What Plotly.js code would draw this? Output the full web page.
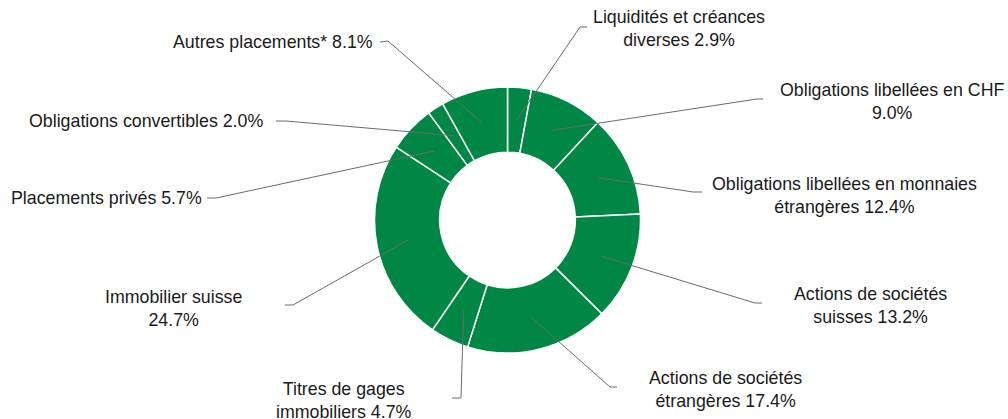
<!DOCTYPE html>
<html>
<head>
<meta charset="utf-8">
<script src="https://cdn.plot.ly/plotly-3.0.1.min.js"></script>
<style>html,body{margin:0;padding:0;background:#fff;}#chart{width:1008px;height:419px;}</style>
</head>
<body>
<div id="chart"></div>
<script>
// ---- Data ----
const categories = [
  "Liquidités et créances diverses",
  "Obligations libellées en CHF",
  "Obligations libellées en monnaies étrangères",
  "Actions de sociétés suisses",
  "Actions de sociétés étrangères",
  "Titres de gages immobiliers",
  "Immobilier suisse",
  "Placements privés",
  "Obligations convertibles",
  "Autres placements*"
];
const values = [2.9, 9.0, 12.4, 13.2, 17.4, 4.7, 24.7, 5.7, 2.0, 8.1];
const labelPrefixes = [
  "Liquidités et créances<br>diverses ",
  "Obligations libellées en CHF<br>",
  "Obligations libellées en monnaies<br>étrangères ",
  "Actions de sociétés<br>suisses ",
  "Actions de sociétés<br>étrangères ",
  "Titres de gages<br>immobiliers ",
  "Immobilier suisse<br>",
  "Placements privés ",
  "Obligations convertibles ",
  "Autres placements* "
];

// ---- Layout (pixel geometry of the figure) ----
const W = 1008, H = 419;
const CX = 507.5, CY = 220, R = 133, HOLE = 0.51;
// label placement: elbow point, tick end, text anchor position
const elbows = [[580,27],[757,99],[693,192],[755,303],[610,387],[461,398],[293,305],[216,198],[286,121],[388,41]];
const ticks  = [[587,27],[763,99],[702,192],[762,303],[617,387],[452,398],[285,305],[207,198],[276,121],[380,42]];
const textPos = [
  [679,29,'center'],[892,101,'center'],[844,195,'center'],[870,305,'center'],[725,389,'center'],
  [344,400,'center'],[173,308,'center'],[204,198,'right'],[265,121,'right'],[375,42,'right']
];

const px = x => x / W;
const py = y => 1 - y / H;

const total = values.reduce((a,b)=>a+b,0);
const rMid = R * (1 + HOLE) / 2;
let cum = 0;
const shapes = [], annotations = [];
values.forEach((v,i) => {
  const mid = (cum + v/2) / total * 2 * Math.PI;
  cum += v;
  const ax = CX + rMid * Math.sin(mid);
  const ay = CY - rMid * Math.cos(mid);
  const [ex,ey] = elbows[i], [tx,ty] = ticks[i];
  shapes.push({
    type:'path', xref:'paper', yref:'paper',
    path:`M ${px(ax)} ${py(ay)} L ${px(ex)} ${py(ey)} L ${px(tx)} ${py(ty)}`,
    line:{color:'#6b6b6b', width:1}
  });
  const [lx,ly,anc] = textPos[i];
  annotations.push({
    xref:'paper', yref:'paper', x:px(lx), y:py(ly),
    xanchor:anc, yanchor:'middle', showarrow:false, align:'center',
    text: labelPrefixes[i] + v.toFixed(1) + '%',
    font:{family:'Liberation Sans, Arial, sans-serif', size:17.8, color:'#1a1a1a'}
  });
});

const trace = {
  type:'pie', labels:categories, values:values, sort:false, direction:'clockwise', rotation:0,
  hole:HOLE, textinfo:'none', hoverinfo:'label+percent',
  marker:{colors:values.map(()=> '#008746'), line:{color:'#ffffff', width:1.5}},
  domain:{x:[px(CX-R), px(CX+R)], y:[py(CY+R), py(CY-R)]},
  showlegend:false
};

Plotly.newPlot('chart', [trace], {
  width:W, height:H, margin:{l:0,r:0,t:0,b:0},
  paper_bgcolor:'#ffffff', showlegend:false,
  shapes:shapes, annotations:annotations
}, {displayModeBar:false, staticPlot:true});
</script>
</body>
</html>
